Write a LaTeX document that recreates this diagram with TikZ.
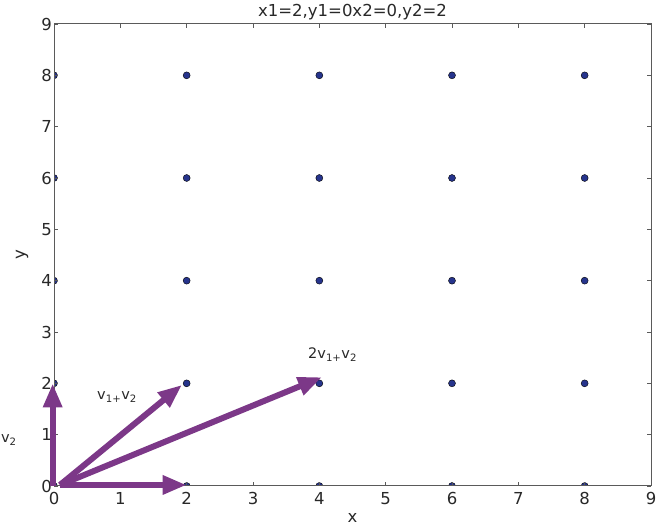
\documentclass[tikz,border=0pt]{standalone}
\usepackage{fontspec}
\setmainfont{DejaVu Sans}
\usetikzlibrary{arrows.meta}
\definecolor{vecpurple}{RGB}{124,56,136}
\definecolor{dotblue}{RGB}{38,52,140}
\definecolor{spine}{RGB}{90,90,90}
\definecolor{txt}{RGB}{40,40,40}
\tikzset{
  ticklab/.style={font=\fontsize{16.5}{18}\selectfont, text=txt, inner sep=0pt},
  veclab/.style={font=\fontsize{14.5}{16}\selectfont, text=txt, inner sep=0pt},
  vecarrow/.style={vecpurple, line width=6pt, line cap=butt,
     -{Triangle[length=24pt,width=18pt]}},
  datadot/.style={fill=dotblue, draw=black, line width=0.4pt},
}
\begin{document}
\begin{tikzpicture}[x=1pt,y=-1pt]
\useasboundingbox (0,0) rectangle (657,529);
\node[ticklab] (title) at (352.5,12) {x1=2,y1=0x2=0,y2=2};
\node[ticklab] (xlab) at (352.5,518) {x};
\node[ticklab, rotate=90] (ylab) at (22,255) {y};
\begin{scope}[shift={(54,486)}, x=66.333pt, y=51.333pt]
  % dots
  \begin{scope}
    \clip (0,0) rectangle (9,9);
    \foreach \i in {0,2,4,6,8}{
      \foreach \j in {0,2,4,6,8}{
        \fill[datadot] (\i,\j) circle[radius=3.5pt];
      }
    }
  \end{scope}
  % frame
  \draw[spine, line width=1pt] (0,0) rectangle (9,9);
  \foreach \k in {0,...,9}{
    \draw[spine, line width=0.6pt] (\k,0) -- ++(0,4pt);
    \draw[spine, line width=0.6pt] (\k,9) -- ++(0,-4pt);
    \draw[spine, line width=0.6pt] (0,\k) -- ++(4pt,0);
    \draw[spine, line width=0.6pt] (9,\k) -- ++(-4pt,0);
    \node[ticklab, anchor=north] (xt\k) at ([yshift=-6pt]\k,0) {\k};
    \node[ticklab, anchor=east] (yt\k) at ([xshift=-2pt]0,\k) {\k};
  }
  % vectors
  \coordinate (o) at (0.09,0.02);
  \coordinate (ov) at (-0.02,0.0);
  \coordinate (v1) at (2.0,0.02);
  \coordinate (v2) at (-0.02,2.0);
  \coordinate (v12) at (1.93,1.97);
  \coordinate (v212) at (4.04,2.12);
  \draw[vecarrow] (ov) -- (v2);
  \draw[vecarrow] (o) -- (v1);
  \draw[vecarrow] (o) -- (v12);
  \draw[vecarrow] (o) -- (v212);
  \node[veclab] (l12) at (0.95,1.73) {v\textsubscript{1+}v\textsubscript{2}};
  \node[veclab] (l212) at (4.2,2.56) {2v\textsubscript{1+}v\textsubscript{2}};
  \node[veclab, anchor=east] (l2) at (-0.56,0.9) {v\textsubscript{2}};
\end{scope}
\end{tikzpicture}
\end{document}
